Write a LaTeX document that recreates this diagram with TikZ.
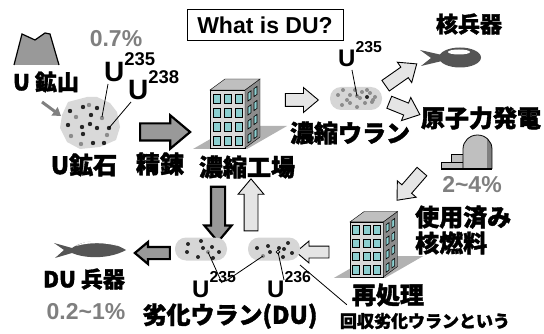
\documentclass[tikz,border=0pt]{standalone}
\usepackage{fontspec}
\setmainfont{Liberation Sans}
\newfontfamily\jpfont{Noto Sans CJK JP}[BoldFeatures={FakeBold=1.6}]
\usetikzlibrary{shapes.arrows,arrows.meta}

\definecolor{pctgray}{HTML}{7F7F7F}
\definecolor{bombgray}{HTML}{555555}
\definecolor{window}{HTML}{8CCFD0}

% U with a mass number
\newcommand\isotope[1]{U\raisebox{0.6em}{\fontsize{0.66em}{0.66em}\selectfont #1}}

\begin{document}
\begin{tikzpicture}[x=1pt,y=-1pt,
    jp/.style={font=\jpfont\bfseries\fontsize{24}{24}\selectfont, inner sep=0pt},
    pct/.style={font=\bfseries\fontsize{23}{23}\selectfont, text=pctgray, inner sep=0pt},
    iso/.style={font=\bfseries\fontsize{#1}{#1}\selectfont, inner sep=0pt, anchor=base west},
    iso/.default=28,
    % length, total width, shaft width
    arrowsize/.style n args={3}{minimum height=#1, inner xsep=0pt, inner ysep=#3/2,
        single arrow head extend={(#2-#3)/2}},
    fatarrow/.style={single arrow, draw=black, line width=2.2pt, fill=black!40,
        single arrow tip angle=80},
    thinarrow/.style={single arrow, draw=black, line width=0.9pt, fill=black!10,
        single arrow tip angle=80},
    pellet/.style={fill=black!16, rounded corners=11pt, minimum width=52pt, minimum height=23pt},
    dotb/.style={fill=black!85},
    dotg/.style={fill=black!45},
    building/.pic={
        \fill[black!30] (-17,1) -- (37,1) -- (77,-22) -- (23,-22) -- cycle;
        \draw[fill=black!15] (0,0) rectangle (35,-58);
        \draw[fill=black!45] (35,0) -- (50,-11) -- (50,-69) -- (35,-58) -- cycle;
        \draw[fill=black!25] (0,-58) -- (35,-58) -- (50,-69) -- (15,-69) -- cycle;
        \foreach \i in {0,1,2}
          \foreach \j in {0,1,2,3}
            \draw[fill=window, line width=0.8pt] (3+11*\i,-3-14*\j) rectangle +(7,-9);
        \foreach \i in {0,1}
          \foreach \j in {0,1,2,3}
            \draw[fill=window, line width=0.6pt] (38+6*\i,-5-4.4*\i-14*\j) -- ++(3,-2.2)
                -- ++(0,-8) -- ++(-3,2.2) -- cycle;
    }]
\useasboundingbox (0,0) rectangle (544,334);

%% ore side
\draw[fill=black!40, line width=1.2pt] (14,65) -- (22,34) -- (35,40) -- (45,33) -- (50,34) -- (59,65);
\node[jp, font=\jpfont\bfseries\fontsize{22}{22}\selectfont] (mine) at (46,82) {U 鉱山};
\fill[black!15] (62,115) -- (68,102) -- (87,97) -- (97,97) -- (110,103) -- (117,112)
    -- (120,127) -- (116,140) -- (100,147) -- (80,149) -- (67,142) -- (60,128) -- cycle;
\coordinate (mine out) at (42,102);
\coordinate (ore in) at (61,116);
\draw[line width=3pt, black!50, -{Triangle[length=8pt,width=10pt]}] (mine out) -- (ore in);
\foreach \p in {(70,111),(83,107),(97,108),(91,115),(68,125),(82,127),(90,124),
    (97,128),(109,128),(83,134),(93,143),(104,143)}
  \fill[dotb] \p circle (2.2);
\foreach \p in {(89,105),(76,117),(102,118),(71,136),(107,135),(81,144)}
  \fill[dotg] \p circle (2.2);
\coordinate (ore235) at (102,117);
\coordinate (ore238) at (109,128);
\node[pct] (natural) at (116,39) {0.7\%};
\node[iso] (u235a) at (104,82) {\isotope{235}};
\node[iso] (u238a) at (128,100) {\isotope{238}};
\draw[line width=0.8pt] ([shift={(4,2)}]u235a.base west) -- (ore235);
\draw[line width=0.8pt] ([shift={(3,2)}]u238a.base west) -- (ore238);
\node[jp] (ore) at (84,165) {U鉱石};

\node[fatarrow, arrowsize={50pt}{31pt}{15pt}] (refine arrow) at (160,132) {};
\node[jp] (refine) at (160,164) {精錬};

%% enrichment
\node[draw, line width=1pt, minimum width=156pt, minimum height=31pt,
    font=\bfseries\fontsize{23}{23}\selectfont] (title) at (265,25.5) {What is DU?};
\pic at (210,148) {building};
\node[jp] (plant) at (247,167) {濃縮工場};
\node[thinarrow, arrowsize={33pt}{24pt}{12pt}] (to enriched) at (298,100) {};
\node[pellet] (enriched) at (356,98.5) {};
\foreach \p in {(338,95),(343,90),(347,100),(350,95),(355,90),(360,98),(362,92),(370,93),
    (373,100),(357,107),(350,103),(342,105),(365,103),(375,97),(372,102),(367,90),(357,96)}
  \fill[black!45] \p circle (2);
\fill[dotb] (367,97) circle (2);
\coordinate (enr235) at (357,96);
\node[iso=24] (u235b) at (338,67) {\isotope{235}};
\draw[line width=0.8pt] ([shift={(14,3)}]u235b.base west) -- (enr235);
\node[jp] (enriched label) at (350,133) {濃縮ウラン};

%% uses of enriched uranium
\node[thinarrow, arrowsize={38pt}{24pt}{12pt}, rotate=35] (to weapons) at (398,77) {};
\node[thinarrow, arrowsize={33pt}{24pt}{12pt}, rotate=-22] (to power) at (401,107) {};
\node[jp, font=\jpfont\bfseries\fontsize{22}{22}\selectfont] (weapons) at (469,24) {核兵器};
% bomb
\fill[bombgray] (420,50) -- (442,55) -- (442,61) -- (421,66) -- (431,58) -- cycle;
\fill[bombgray] (460,57.5) ellipse (21 and 10);
\fill[white] (459,52) ellipse (11 and 2.5);
\node[jp] (power) at (481,118) {原子力発電};
% reactor
\draw[fill=black!25, line width=0.8pt] (441,169) rectangle (463,162);
\draw[fill=black!25, line width=0.8pt] (451,162) rectangle (463,154);
\begin{scope}
  \clip (463,169) -- (463,149) arc[start angle=180, end angle=0, x radius=14.5, y radius=-14] -- (492,169) -- cycle;
  \fill[black!25] (463,130) rectangle (492,169);
  \fill[black!50] (487,130) rectangle (492,169);
\end{scope}
\draw[line width=0.8pt] (463,169) -- (463,149) arc[start angle=180, end angle=0, x radius=14.5, y radius=-14] -- (492,169);
\draw[line width=1.6pt] (441,169) -- (492,169);
\node[pct] (fuel pct) at (472,185) {2\textasciitilde4\%};
\node[thinarrow, arrowsize={38pt}{24pt}{12pt}, rotate=-131] (to spent) at (412,183) {};
\node[jp, anchor=west, align=left] (spent) at (415,230)
    {使用済み\\[2pt]核燃料};

%% reprocessing
\pic[scale=0.95] at (350,277) {building};
\node[jp] (reproc) at (388,295) {再処理};
\node[thinarrow, arrowsize={33pt}{21pt}{11pt}, rotate=180] (to du) at (316,252) {};

%% depleted uranium
\node[fatarrow, arrowsize={55pt}{25pt}{12pt}, rotate=-90] (tails) at (218,210) {};
\node[thinarrow, arrowsize={52pt}{25pt}{13pt}, rotate=90] (back) at (251,209) {};
\node[pellet] (du a) at (201,249) {};
\node[pellet] (du b) at (274,249) {};
\foreach \p in {(188,244),(201,241),(187,252),(198,257),(203,248),(212,247),(219,252),(213,258),
    (257,248),(268,246),(270,252),(279,248),(284,249),(288,243),(283,257),(292,253)}
  \fill[dotb] \p circle (2);
\fill[dotg] (208,252) circle (2);
\fill[dotg] (263,256) circle (2);
\draw[fill=white, line width=0.7pt] (278,252) circle (1.8);
\coordinate (du235a) at (208,252);
\coordinate (du235b) at (263,256);
\coordinate (du236) at (278,252);
\node[iso=24] (u235c) at (192,297) {\isotope{235}};
\node[iso=24] (u236) at (267,297) {\isotope{236}};
\draw[line width=0.8pt] ([shift={(30,-14)}]u235c.base west) -- (du235a);
\draw[line width=0.8pt] ([shift={(34,-16)}]u235c.base west) -- (du235b);
\draw[line width=0.8pt] ([shift={(17,-17)}]u236.base west) -- (du236);
\node[jp] (du) at (230,316) {劣化ウラン(DU)};
\node[jp, font=\jpfont\bfseries\fontsize{17}{17}\selectfont] (recovered) at (425,321)
    {回収劣化ウランという};
\coordinate (recovered tip) at (300,265);
\draw[line width=0.8pt] (recovered tip) -- ([shift={(7,-8)}]recovered.north west);

\node[fatarrow, arrowsize={35pt}{20pt}{10pt}, rotate=180] (to du weapons) at (156,253) {};
% DU shell
\fill[bombgray] (54,243) -- (72,248) .. controls (86,238) and (110,240) .. (126,250)
    .. controls (110,259) and (86,259) .. (72,253) -- (55,258) -- (64,250) -- cycle;
\fill[white] (76,246) .. controls (90,238) and (108,240) .. (118,246)
    .. controls (105,242.5) and (90,242) .. cycle;
\node[jp, font=\jpfont\bfseries\fontsize{22}{22}\selectfont] (du weapons) at (84,279) {DU 兵器};
\node[pct] (du pct) at (86,312) {0.2\textasciitilde1\%};
\end{tikzpicture}
\end{document}
